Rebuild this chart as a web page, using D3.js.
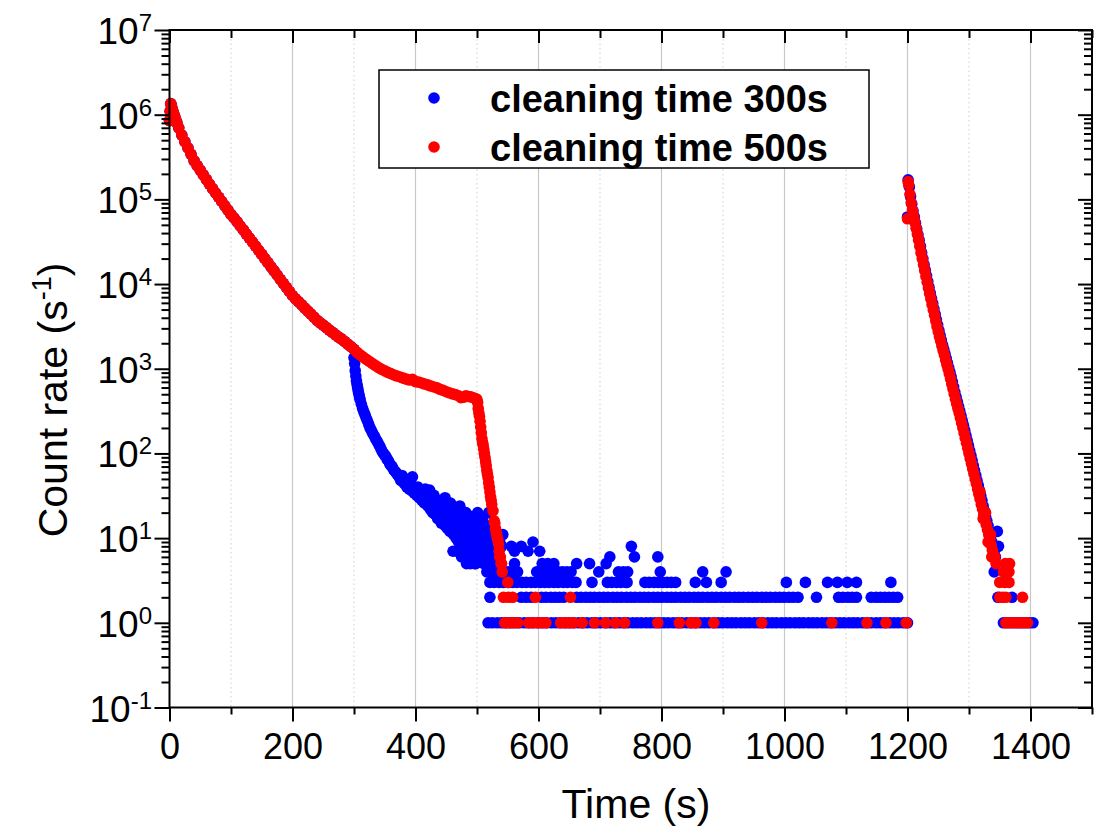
<!DOCTYPE html>
<html>
<head>
<meta charset="utf-8">
<script src="https://cdn.jsdelivr.net/npm/d3@7"></script>
<style>
  html, body { margin: 0; padding: 0; background: #fff; }
  svg { display: block; font-family: "Liberation Sans", Arial, sans-serif; }
</style>
</head>
<body>
<svg id="chart" width="1094" height="835"></svg>
<script>
// ---- data: count rate (s^-1) vs time (s) ----
// filling + storage phase, common to both runs [time, rate]
const storage = [[0,850000],[1,1100000],[2,1350000],[3,1300000],[4,1200000],[6,1080000],[8,980000],[10,880000],[12,800000],[15,700000],
  [20,575000],[25,480000],[30,405000],[35,340000],[40,285000],[45,250000],[50,221000],[55,195000],[60,172000],[65,151000],
  [70,134000],[75,119000],[80,106000],[85,94400],[90,84000],[95,74600],[100,66400],[105,60300],[110,54300],[115,48500],
  [120,43600],[125,38900],[130,34900],[135,31300],[140,28000],[145,25000],[150,22400],[155,20000],[160,17900],[165,16000],
  [170,14300],[175,12800],[180,11400],[185,10200],[190,9160],[195,8180],[200,7330],[205,6680],[210,6170],[215,5680],
  [220,5210],[225,4790],[230,4420],[235,4060],[240,3730],[245,3490],[250,3270],[255,3060],[260,2860],[265,2690],
  [270,2510],[275,2360],[280,2240],[285,2090],[290,1950],[295,1820],[300,1700]];

// run with 300 s cleaning: drop after cleaning starts [time, rate]
const blueDrop = [[300,1350],[301,1150],[302,950],[303,820],[304,720],[305,650],[306,590],[307,540],[308,500],[309,460],
  [310,430],[312,380],[314,340],[316,310],[318,285],[320,260],[322,240],[324,220],[326,200],[328,188],[330,175],[332,165],
  [334,155],[336,145],[338,138],[340,128],[342,122],[344,112],[346,105],[348,100],[350,95],[352,92],[354,85],[356,82],
  [358,76],[360,72],[362,70],[364,65],[366,62],[368,60],[370,57],[372,55],[374,52],[376,48],[378,55],[380,46],[382,44],
  [384,50],[386,40],[388,42],[390,38],[392,45],[394,36],[395,53],[396,41],[398,34],[400,37],[402,32],[404,40],[406,30],
  [408,35],[410,28],[412,33],[414,26],[416,38],[418,28],[420,24],[422,30],[423,37],[424,22],[426,27],[428,20],[430,25],
  [432,19],[434,22],[436,17],[438,21],[440,19],[442,15],[444,23],[446,17],[448,30],[448,14],[450,19],[452,13],[454,16],
  [456,12],[458,18],[460,14],[461,7],[462,11],[464,15],[466,10],[468,13],[470,9],[472,12],[473,22],[474,16],[475,6],
  [476,10],[478,8],[480,11],[482,14],[483,5],[484,9],[486,7],[488,12],[490,10],[492,8],[494,11],[496,6],[498,9],[498,5],
  [500,13],[502,8],[504,16],[506,7],[508,10],[510,6],[512,9],[514,12],[516,6],[518,8],[520,5],[522,10],[524,7],[526,9],
  [430,32],[436,28],[441,26],[447,24],[452,22],[457,26],[463,20],[468,18],[472,24],[478,17],[482,20],[487,16],[491,18],
  [496,15],[501,20],[505,13],[509,17],[513,11],[517,14],[519,20],[523,12],[527,15],[531,11],[467,7],[479,6],[489,5],
  [494,7],[503,6],[511,5],[515,8],[525,5],[529,6],[533,7],[537,9],[540,8]];
// scattered higher counts in the background region
const blueSparse = [[542,11],[556,8],[572,8],[591,9],[561,7],[583,7],[602,7],[716,6],[751,8],[756,6],[794,6]];
// background counts at fixed integer rates: times of each point
const blueOnes = [518,525,533,540,547,555,562,569,577,584,591,599,606,613,621,628,635,643,650,657,665,672,679,687,694,
  701,709,716,723,731,738,745,753,760,767,775,782,789,797,804,811,819,826,833,841,848,855,863,870,877,885,892,899,907,
  914,921,929,936,943,951,958,965,973,980,987,995,1002,1009,1017,1024,1031,1039,1046,1053,1061,1068,1075,1083,1090,
  1097,1105,1112,1119,1127,1134,1141,1149,1156,1163,1171,1178,1185,1193,1200,1356,1363,1370,1377,1384,1391,1398,1404];
const blueTwos = [521,572,580,588,605,612,620,627,634,641,662,669,677,684,691,699,706,713,721,728,735,743,750,757,765,
  772,779,787,794,801,809,816,823,831,838,845,853,860,867,875,882,889,897,904,911,919,926,933,941,948,955,963,970,977,
  985,992,999,1007,1014,1022,1052,1088,1095,1103,1110,1117,1141,1149,1156,1163,1170,1177,1184,1347,1370];
const blueThrees = [521,528,536,543,551,558,565,573,580,588,595,603,610,617,625,632,640,647,655,661,687,712,719,727,
  734,742,744,773,780,788,795,802,809,816,823,855,873,897,1003,1034,1070,1086,1102,1117,1173];
const blueFours = [516,523,530,537,544,551,558,566,597,604,611,618,625,632,639,646,653,698,730,738,745,798,867,905,1341];
const blueFives = [496,561,606,615,625,662,683,710];
// second filling after 1200 s, decay [time, rate]
const bluePeak = [[1200,62000],[1201,170000],[1203,140000],[1205,108000],[1207,88000],[1209,73000],[1211,62000],
  [1213,52500],[1215,45000],[1217,38500],[1219,33000],[1221,28000],[1223,23500],[1225,20000],[1227,17000],[1229,14600],
  [1231,12500],[1233,10700],[1235,9200],[1237,7900],[1239,6800],[1241,5900],[1243,5100],[1245,4400],[1247,3800],
  [1249,3300],[1251,2850],[1253,2480],[1255,2180],[1257,1920],[1259,1700],[1261,1500],[1263,1320],[1265,1170],
  [1267,1030],[1269,910],[1271,800],[1273,700],[1275,610],[1277,530],[1279,465],[1281,410],[1283,360],[1285,318],
  [1287,280],[1289,245],[1291,215],[1293,188],[1295,164],[1297,143],[1299,125],[1301,109],[1303,95],[1305,83],
  [1307,72],[1309,63],[1311,55],[1313,48],[1315,42],[1317,37],[1319,32],[1321,28],[1323,24],[1325,21],[1327,18],
  [1329,16],[1331,14],[1333,12],[1335,10],[1337,9],[1339,8],[1341,7],[1343,6],[1346,12],[1348,8]];

// run with 500 s cleaning [time, rate]
const redStorage = [[305,1560],[310,1460],[315,1370],[320,1290],[325,1220],[330,1150],[335,1090],[340,1030],[345,985],
  [350,945],[355,905],[360,875],[365,845],[370,820],[375,800],[380,775],[385,755],[390,735],[395,750],[400,705],
  [405,695],[410,680],[415,660],[420,645],[425,625],[430,610],[435,595],[440,570],[445,555],[450,535],[455,520],
  [460,505],[465,495],[470,480],[474,455],[478,460],[482,480],[486,470],[490,465],[494,455],[497,445],[499,440]];
const redDrop = [[500,430],[501,400],[502,340],[503,300],[504,275],[505,240],[506,205],[507,175],[508,150],[509,135],
  [510,125],[511,112],[512,100],[513,90],[514,80],[515,72],[516,63],[517,57],[518,52],[519,45],[520,40],[521,35],
  [522,31],[523,28],[524,25],[526,21],[528,16],[529,15],[530,13],[531,12],[532,11],[533,10],[534,9.5],[535,8.5],
  [536,7],[537,6],[538,6],[539,5],[540,5],[541,4]];
const redOnes = [545,551,558,566,584,591,598,605,612,636,643,650,657,671,691,709,725,740,794,829,848,856,885,963,1077,
  1134,1165,1198,1360,1367,1374,1381,1388,1395];
const redTwos = [543,551,558,595,652,1350,1355,1360,1387];
const redThrees = [550,1350,1358,1365];
const redFours = [1356,1365];
const redFives = [1359,1366];
const redPeak = [[1200,59000],[1201,162000],[1202,148000],[1204,115000],[1206,91000],[1208,75000],[1210,63000],
  [1212,53700],[1214,45700],[1216,38900],[1218,33100],[1220,27900],[1222,23400],[1224,20000],[1226,17000],[1228,14500],
  [1230,12300],[1232,10500],[1234,9000],[1236,7760],[1238,6680],[1240,5750],[1242,4950],[1244,4270],[1246,3670],
  [1248,3160],[1250,2750],[1252,2400],[1254,2110],[1256,1860],[1258,1640],[1260,1450],[1262,1270],[1264,1120],
  [1266,990],[1268,870],[1270,760],[1272,660],[1274,575],[1276,500],[1278,437],[1280,385],[1282,340],[1284,300],
  [1286,263],[1288,229],[1290,200],[1292,174],[1294,151],[1296,132],[1298,115],[1300,100],[1302,87],[1304,76],
  [1306,66],[1308,58],[1310,50],[1312,44],[1314,38],[1316,33],[1318,29],[1320,25],[1322,22],[1324,19],[1326,16.6],
  [1328,14.5],[1330,12.6],[1332,11],[1334,9.5],[1336,8.3],[1338,7.2],[1340,6.3],[1342,6],[1344,5],
  [1318,35],[1323,17],[1327,20],[1331,9],[1335,11],[1337,6]];

// axis ticks
const xMajor = [0,200,400,600,800,1000,1200,1400];
const xMinor = [100,300,500,700,900,1100,1300,1500];
const yExponents = [-1,0,1,2,3,4,5,6,7];

const series = [
  { name: "cleaning time 300s", color: "#0000ff" },
  { name: "cleaning time 500s", color: "#ff0000" }
];

// ---- assemble point lists ----
const levelPoints = (times, rate) => times.map(t => [t, rate]);
const bluePoints = [].concat(storage, blueDrop, blueSparse, levelPoints(blueOnes,1), levelPoints(blueTwos,2),
  levelPoints(blueThrees,3), levelPoints(blueFours,4), levelPoints(blueFives,5), bluePeak);
const redPoints = [].concat(storage, redStorage, redDrop, levelPoints(redOnes,1), levelPoints(redTwos,2),
  levelPoints(redThrees,3), levelPoints(redFours,4), levelPoints(redFives,5), redPeak);

// ---- layout ----
const svg = d3.select("#chart");
const x = d3.scaleLinear().domain([0, 1500]).range([169.5, 1092]);
const y = d3.scaleLog().domain([0.1, 1e7]).range([707.5, 30]);
const [x0, x1] = x.range();
const [yb, yt] = y.range();

// vertical grid lines
svg.append("g").selectAll("line").data(xMajor.filter(v => v > 0)).join("line")
  .attr("x1", d => x(d)).attr("x2", d => x(d)).attr("y1", yt).attr("y2", yb)
  .attr("stroke", "#c8c8c8").attr("stroke-width", 1.2);
svg.append("g").selectAll("line").data(xMinor.filter(v => v < 1500)).join("line")
  .attr("x1", d => x(d)).attr("x2", d => x(d)).attr("y1", yt).attr("y2", yb)
  .attr("stroke", "#cfcfcf").attr("stroke-width", 1).attr("stroke-dasharray", "1.5,3");

// data points
const r = 5.8;
const plot = svg.append("g");
plot.append("g").selectAll("circle").data(bluePoints).join("circle")
  .attr("cx", d => x(d[0])).attr("cy", d => y(d[1])).attr("r", r).attr("fill", series[0].color);
plot.append("g").selectAll("circle").data(redPoints).join("circle")
  .attr("cx", d => x(d[0])).attr("cy", d => y(d[1])).attr("r", r).attr("fill", series[1].color);

// axes
const styleAxis = g => {
  g.select(".domain").remove();
  g.selectAll(".tick line").attr("stroke", "#000").attr("stroke-width", 2);
};
const yMinorVals = [];
for (let e = -1; e < 7; e++) for (let m = 2; m <= 9; m++) yMinorVals.push(m * Math.pow(10, e));
const yMajorVals = yExponents.map(e => Math.pow(10, e));

// bottom
svg.append("g").attr("transform", `translate(0,${yb})`)
  .call(d3.axisBottom(x).tickValues(xMajor).tickSize(14).tickFormat(d3.format("d")))
  .call(styleAxis)
  .call(g => g.selectAll("text").attr("font-size", 36).attr("fill", "#000")
    .attr("font-family", "Liberation Sans, Arial, sans-serif").attr("dy", null).attr("y", 51));
svg.append("g").attr("transform", `translate(0,${yb})`)
  .call(d3.axisBottom(x).tickValues(xMinor).tickSize(7).tickFormat(""))
  .call(styleAxis);
// top
svg.append("g").attr("transform", `translate(0,${yt})`)
  .call(d3.axisTop(x).tickValues(xMajor).tickSize(-13).tickFormat(""))
  .call(styleAxis);
svg.append("g").attr("transform", `translate(0,${yt})`)
  .call(d3.axisTop(x).tickValues(xMinor).tickSize(-8).tickFormat(""))
  .call(styleAxis);
// left
svg.append("g").attr("transform", `translate(${x0},0)`)
  .call(d3.axisLeft(y).tickValues(yMajorVals).tickSize(15).tickFormat(""))
  .call(styleAxis);
svg.append("g").attr("transform", `translate(${x0},0)`)
  .call(d3.axisLeft(y).tickValues(yMinorVals).tickSize(8).tickFormat(""))
  .call(styleAxis);
// right
svg.append("g").attr("transform", `translate(${x1},0)`)
  .call(d3.axisRight(y).tickValues(yMajorVals).tickSize(-14).tickFormat(""))
  .call(styleAxis);
svg.append("g").attr("transform", `translate(${x1},0)`)
  .call(d3.axisRight(y).tickValues(yMinorVals).tickSize(-8).tickFormat(""))
  .call(styleAxis);

// y tick labels: 10 with superscript exponent
const yLab = svg.append("g").attr("font-size", 37).attr("fill", "#000");
yExponents.forEach(e => {
  const t = yLab.append("text").attr("x", 152).attr("y", y(Math.pow(10, e)) + 14).attr("text-anchor", "end");
  t.append("tspan").text("10");
  t.append("tspan").attr("font-size", 24).attr("dy", -13).text(String(e));
});

// frame
svg.append("rect").attr("x", x0).attr("y", yt).attr("width", x1 - x0).attr("height", yb - yt)
  .attr("fill", "none").attr("stroke", "#000").attr("stroke-width", 2);

// axis titles
svg.append("text").attr("x", 636).attr("y", 818).attr("text-anchor", "middle")
  .attr("font-size", 41).attr("fill", "#000").text("Time (s)");
const yt1 = svg.append("text").attr("transform", "translate(67,400) rotate(-90)")
  .attr("text-anchor", "middle").attr("font-size", 41).attr("fill", "#000");
yt1.append("tspan").text("Count rate (s");
yt1.append("tspan").attr("font-size", 27).attr("dy", -16).text("-1");
yt1.append("tspan").attr("dy", 16).text(")");

// legend
const lg = svg.append("g");
lg.append("rect").attr("x", 379).attr("y", 70).attr("width", 490).attr("height", 98)
  .attr("fill", "#fff").attr("stroke", "#000").attr("stroke-width", 1.5);
series.forEach((s, i) => {
  const cy = 98 + i * 49;
  lg.append("circle").attr("cx", 434).attr("cy", cy).attr("r", r).attr("fill", s.color);
  lg.append("text").attr("x", 490).attr("y", cy + 13.5).attr("font-size", 38).attr("font-weight", "bold")
    .attr("fill", "#000").text(s.name);
});
</script>
</body>
</html>
